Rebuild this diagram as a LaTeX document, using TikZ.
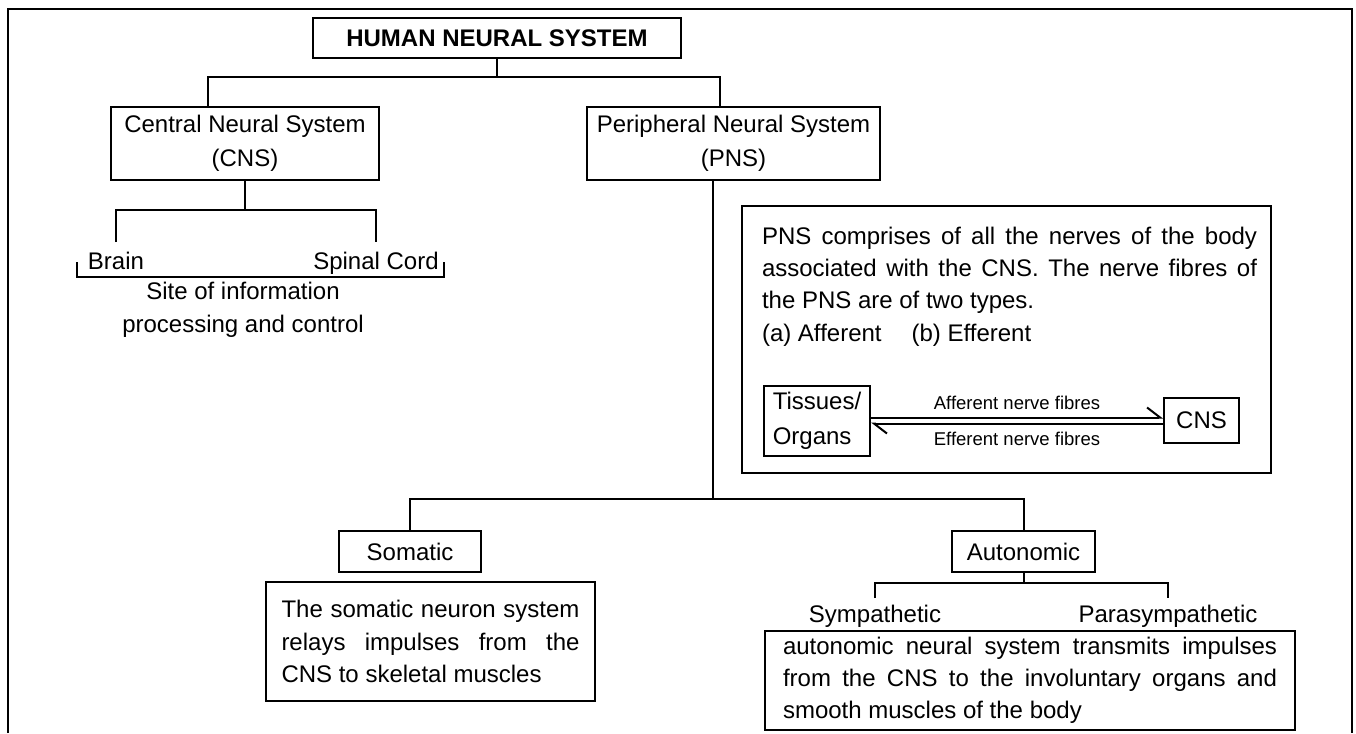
\documentclass[tikz,border=0pt]{standalone}
\usepackage{fontspec}
\setmainfont{Liberation Sans}
\usetikzlibrary{arrows.meta}

\begin{document}
\begin{tikzpicture}[x=1pt,y=-1pt,line width=2pt,
        box/.style={draw,rectangle,inner sep=0pt,font=\fontsize{24}{34}\selectfont,align=center},
        leaf/.style={inner sep=0pt,text height=17pt,text depth=5pt,font=\fontsize{24}{29}\selectfont},
        desc/.style={draw,rectangle,inner ysep=0pt,align=justify,font=\fontsize{24}{32.5}\selectfont},
        fibre/.style={inner sep=0pt,font=\fontsize{18.5}{22}\selectfont},
        barb/.style={-{Straight Barb[left,length=13pt,width=20pt]}}]
        \useasboundingbox (0,0) rectangle (1356,733);
        \draw (8,733) |- (1352,9) -- (1352,733);
        \node[box,minimum width=368pt,minimum height=40pt,font=\fontsize{24}{29}\selectfont\bfseries] (hns) at (497,38) {HUMAN NEURAL SYSTEM};
        \node[box,minimum width=268pt,minimum height=73pt] (cns) at (245,143.5) {Central Neural System\\(CNS)};
        \node[box,minimum width=293pt,minimum height=73pt] (pns) at (733.5,143.5) {Peripheral Neural System\\(PNS)};
        \node[leaf] (brain) at (116,263) {Brain};
        \node[leaf] (spinal) at (376,263) {Spinal Cord};
        \node[inner sep=0pt,align=center,font=\fontsize{24}{33}\selectfont] (site) at (243,309.5) {Site of information\\processing and control};
        \node[draw,rectangle,minimum width=529pt,minimum height=267pt] (pnsbox) at (1006.5,339.5) {};
        \node[inner sep=0pt,anchor=north west,text width=495pt,align=justify,font=\fontsize{24}{32.3}\selectfont] (pnstext) at (761,226) {PNS comprises of all the nerves of the body\linebreak associated with the CNS. The nerve fibres of\linebreak the PNS are of two types.\\(a)~Afferent\hspace{30pt}(b)~Efferent};
        \node[box,align=left,minimum width=106pt,minimum height=70pt,font=\fontsize{24}{35}\selectfont] (tissues) at (817,420.5) {Tissues/\\Organs};
        \node[box,minimum width=75pt,minimum height=45pt] (cnsb) at (1201.5,420.5) {CNS};
        \node[fibre] (aff) at (1017,403) {Afferent nerve fibres};
        \node[fibre] (eff) at (1017,439) {Efferent nerve fibres};
        \node[box,minimum width=142pt,minimum height=41pt] (somatic) at (410,551.5) {Somatic};
        \node[box,minimum width=143pt,minimum height=41pt] (auto) at (1023.5,551.5) {Autonomic};
        \node[desc,text width=298pt,inner xsep=15.5pt,minimum height=119pt] (somdesc) at (430.5,641.5) {The somatic neuron system\linebreak relays impulses from the\linebreak CNS to skeletal muscles};
        \node[leaf] (symp) at (875,616) {Sympathetic};
        \node[leaf] (para) at (1168,616) {Parasympathetic};
        \node[desc,text width=494pt,inner xsep=18pt,minimum height=99pt,font=\fontsize{24}{32}\selectfont] (autodesc) at (1030,680.5) {autonomic neural system transmits impulses\linebreak from the CNS to the involuntary organs and\linebreak smooth muscles of the body};
        \draw (hns.south) -- ++(0,18) coordinate (j1);
        \draw (j1) -| ([xshift=-37pt]cns.north);
        \draw (j1) -| ([xshift=-13.5pt]pns.north);
        \draw (cns.south) -- ++(0,29) coordinate (j2);
        \draw ([yshift=9pt]brain.north) |- (j2) -| ([yshift=9pt]spinal.north);
        \draw (77,262) -- (77,277) -- (444,277) -- (444,262);
        \draw[barb] ([yshift=3pt]tissues.east) -- ([yshift=3pt]cnsb.west);
        \draw[barb] ([yshift=-3pt]cnsb.west) -- ([yshift=-3pt]tissues.east);
        \draw ([xshift=-20.5pt]pns.south) -- ++(0,318) coordinate (j3);
        \draw (somatic.north) |- (j3) -| (auto.north);
        \draw (auto.south) -- ++(0,10) coordinate (j4);
        \draw ([yshift=6pt]symp.north) |- (j4) -| ([yshift=6pt]para.north);
    \end{tikzpicture}
\end{document}
